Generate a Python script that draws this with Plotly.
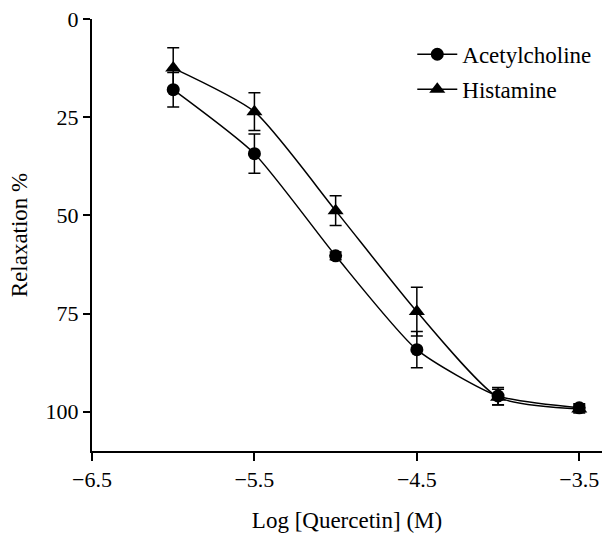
import plotly.graph_objects as go

log_conc = [-6.0, -5.5, -5.0, -4.5, -4.0, -3.5]
ach_mean = [18.0, 34.3, 60.3, 84.2, 96.0, 99.0]
ach_err = [4.4, 5.0, 1.0, 4.6, 2.2, 1.0]
his_mean = [12.5, 23.6, 48.8, 74.5, 96.3, 99.3]
his_err = [5.2, 4.8, 3.8, 6.2, 2.0, 1.0]

x_ticks = [-6.5, -5.5, -4.5, -3.5]
y_ticks = [0, 25, 50, 75, 100]

FONT = "Liberation Serif"

fig = go.Figure()
fig.add_trace(go.Scatter(
    x=log_conc, y=ach_mean, name="Acetylcholine", mode="lines+markers",
    line=dict(color="black", width=1.5, shape="spline", smoothing=0.6),
    marker=dict(symbol="circle", size=13, color="black"),
    error_y=dict(type="data", array=ach_err, visible=True, color="black", thickness=1.5, width=6),
    legendgroup="a",
))
fig.add_trace(go.Scatter(
    x=log_conc, y=his_mean, name="Histamine", mode="lines+markers",
    line=dict(color="black", width=1.5, shape="spline", smoothing=0.6),
    marker=dict(symbol="triangle-up", size=14, color="black"),
    error_y=dict(type="data", array=his_err, visible=True, color="black", thickness=1.5, width=6),
    legendgroup="b",
))

fig.update_layout(
    width=607, height=535,
    margin=dict(l=92, r=5, t=19, b=84),
    paper_bgcolor="white", plot_bgcolor="white",
    font=dict(family=FONT, color="black", size=22),
    legend=dict(x=0.628, y=0.968, xanchor="left", yanchor="top",
                font=dict(family=FONT, size=23, color="black"),
                bgcolor="rgba(0,0,0,0)", tracegroupgap=2, traceorder="grouped",
                itemwidth=40),
    xaxis=dict(range=[-6.5, -3.36], tickvals=x_ticks, ticktext=[f"\u2212{abs(v)}" for v in x_ticks],
               showline=True, linecolor="black", linewidth=2,
               ticks="outside", ticklen=8, tickwidth=2, tickcolor="black",
               showgrid=False, zeroline=False,
               title=dict(text="Log [Quercetin] (M)", font=dict(family=FONT, size=23), standoff=20),
               tickfont=dict(family=FONT, size=22)),
    yaxis=dict(range=[110, 0], tickvals=y_ticks,
               showline=True, linecolor="black", linewidth=2,
               ticks="outside", ticklen=7, tickwidth=2, tickcolor="black",
               showgrid=False, zeroline=False,
               title=dict(text="Relaxation %", font=dict(family=FONT, size=23), standoff=12),
               tickfont=dict(family=FONT, size=22)),
)

fig.write_html("out.html")
